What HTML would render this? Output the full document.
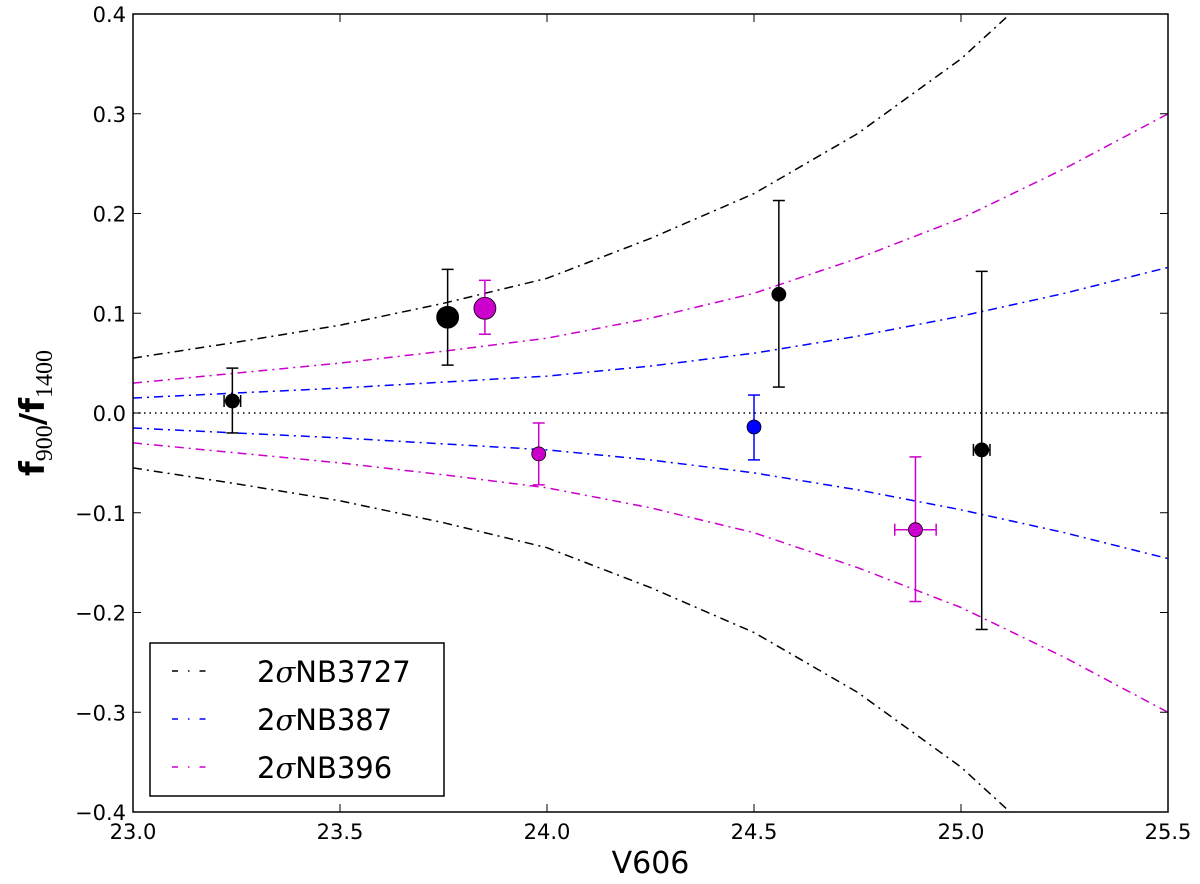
<!DOCTYPE html>
<html><head><meta charset="utf-8"><style>
html,body{margin:0;background:#fff;overflow:hidden;width:1200px;height:884px;}
svg{display:block;font-family:"DejaVu Sans","Liberation Sans",sans-serif;}
</style></head><body>
<svg id="chart" width="1200" height="884" xmlns="http://www.w3.org/2000/svg">
<g id="curves"></g>
<g id="points"></g>
<g id="axes"></g>
<g id="legend"></g>
</svg>
<script>
const xTicks=[23.0,23.5,24.0,24.5,25.0,25.5];
const xTickLabels=["23.0","23.5","24.0","24.5","25.0","25.5"];
const yTicks=[-0.4,-0.3,-0.2,-0.1,0.0,0.1,0.2,0.3,0.4];
const yTickLabels=["\u22120.4","\u22120.3","\u22120.2","\u22120.1","0.0","0.1","0.2","0.3","0.4"];
const curveX=[23.0,23.25,23.5,23.75,24.0,24.25,24.5,24.75,25.0,25.25,25.5];
const curveNB3727=[0.055,0.071,0.088,0.11,0.135,0.175,0.22,0.28,0.355,0.45,0.56];
const curveNB387=[0.015,0.02,0.025,0.031,0.037,0.047,0.06,0.077,0.097,0.12,0.146];
const curveNB396=[0.03,0.04,0.05,0.062,0.075,0.095,0.12,0.155,0.195,0.245,0.30];
const ptX=[23.24,23.76,23.85,23.98,24.50,24.56,24.89,25.05];
const ptY=[0.012,0.096,0.105,-0.041,-0.014,0.119,-0.117,-0.037];
const ptYHi=[0.045,0.144,0.133,-0.010,0.018,0.213,-0.044,0.142];
const ptYLo=[-0.020,0.048,0.079,-0.072,-0.047,0.026,-0.189,-0.217];
const ptXErr=[0.02,0,0,0,0,0,0.05,0.02];
const ptColor=["#000","#000","#c0c","#c0c","#00f","#000","#c0c","#000"];
const ptSize=[7,11,11,7,7,7,7,7];

const L=133,R=1168,T=14,B=812;
const sx=v=>L+(v-23)/2.5*(R-L);
const sy=v=>B-(v+0.4)/0.8*(B-T);
const NS="http://www.w3.org/2000/svg";
function mk(tag,attrs,parent){const e=document.createElementNS(NS,tag);for(const k in attrs)e.setAttribute(k,attrs[k]);parent.appendChild(e);return e;}
const curves=document.getElementById('curves'),points=document.getElementById('points'),axes=document.getElementById('axes'),legend=document.getElementById('legend');

const defs=mk('defs',{},document.getElementById('chart'));
const cp=mk('clipPath',{id:'clip'},defs);mk('rect',{x:L,y:T,width:R-L,height:B-T},cp);
curves.setAttribute('clip-path','url(#clip)');

let z=mk('line',{x1:L,x2:R,y1:sy(0),y2:sy(0),stroke:'#000','stroke-width':1.5,'stroke-dasharray':'1.5,4'},curves);



function drawCurve(vals,color,name){
  for(const sgn of [1,-1]){
    const d=curveX.map((x,i)=>(i?'L':'M')+sx(x).toFixed(1)+','+sy(sgn*vals[i]).toFixed(1)).join(' ');
    const p=mk('path',{d:d,fill:'none',stroke:color,'stroke-width':1.5,'stroke-dasharray':'9,5,2,5'},curves);
    
    
  }
}
drawCurve(curveNB3727,'#000','curve-nb3727');
drawCurve(curveNB387,'#00f','curve-nb387');
drawCurve(curveNB396,'#c0c','curve-nb396');

ptX.forEach((x,i)=>{
  const g=mk('g',{},points);
  
  
  const c=ptColor[i],cx=sx(x);
  mk('line',{x1:cx,x2:cx,y1:sy(ptYHi[i]),y2:sy(ptYLo[i]),stroke:c,'stroke-width':1.5},g);
  mk('line',{x1:cx-6,x2:cx+6,y1:sy(ptYHi[i]),y2:sy(ptYHi[i]),stroke:c,'stroke-width':1.5},g);
  mk('line',{x1:cx-6,x2:cx+6,y1:sy(ptYLo[i]),y2:sy(ptYLo[i]),stroke:c,'stroke-width':1.5},g);
  if(ptXErr[i]>0){
    const x1=sx(x-ptXErr[i]),x2=sx(x+ptXErr[i]),y=sy(ptY[i]);
    mk('line',{x1:x1,x2:x2,y1:y,y2:y,stroke:c,'stroke-width':1.5},g);
    mk('line',{x1:x1,x2:x1,y1:y-6,y2:y+6,stroke:c,'stroke-width':1.5},g);
    mk('line',{x1:x2,x2:x2,y1:y-6,y2:y+6,stroke:c,'stroke-width':1.5},g);
  }
  mk('circle',{cx:cx,cy:sy(ptY[i]),r:ptSize[i],fill:c,stroke:'#000','stroke-width':0.8},g);
});

let fr=mk('rect',{x:L,y:T,width:R-L,height:B-T,fill:'none',stroke:'#000','stroke-width':1.5},axes);


xTicks.forEach((v,i)=>{
  const x=sx(v);
  mk('line',{x1:x,x2:x,y1:B,y2:B-8,stroke:'#000','stroke-width':1},axes);
  mk('line',{x1:x,x2:x,y1:T,y2:T+8,stroke:'#000','stroke-width':1},axes);
  const t=mk('text',{x:x,y:B+27,'font-size':21,'text-anchor':'middle'},axes);t.textContent=xTickLabels[i];
  
  
});
yTicks.forEach((v,i)=>{
  const y=sy(v);
  mk('line',{x1:L,x2:L+8,y1:y,y2:y,stroke:'#000','stroke-width':1},axes);
  mk('line',{x1:R,x2:R-8,y1:y,y2:y,stroke:'#000','stroke-width':1},axes);
  const t=mk('text',{x:L-7,y:y+8,'font-size':21,'text-anchor':'end'},axes);t.textContent=yTickLabels[i];
  
  
});
let xt=mk('text',{x:(L+R)/2,y:873,'font-size':30,'text-anchor':'middle'},axes);xt.textContent='V606';


let yt=mk('text',{transform:'translate(44,413) rotate(-90)','font-size':34,'font-weight':'bold','text-anchor':'middle'},axes);
yt.innerHTML='f<tspan font-size="24" font-weight="normal" font-family="Liberation Serif,serif" dy="8">900</tspan><tspan dy="-8">/f</tspan><tspan font-size="24" font-weight="normal" font-family="Liberation Serif,serif" dy="8">1400</tspan>';



mk('rect',{x:150,y:643,width:294,height:153,fill:'#fff',stroke:'#000','stroke-width':1.5},legend);
const legNames=['NB3727','NB387','NB396'],legColors=['#000','#00f','#c0c'];
legNames.forEach((n,i)=>{
  const y=671+i*48;
  const g=mk('g',{},legend);
  
  
  mk('line',{x1:172,x2:215,y1:y,y2:y,stroke:legColors[i],'stroke-width':1.5,'stroke-dasharray':'6,10,1.5,10'},g);
  const t=mk('text',{x:257,y:y+11,'font-size':29},g);
  t.innerHTML='2<tspan font-style="italic" font-family="DejaVu Serif,serif">σ</tspan>'+n;
});
</script>
</body></html>
